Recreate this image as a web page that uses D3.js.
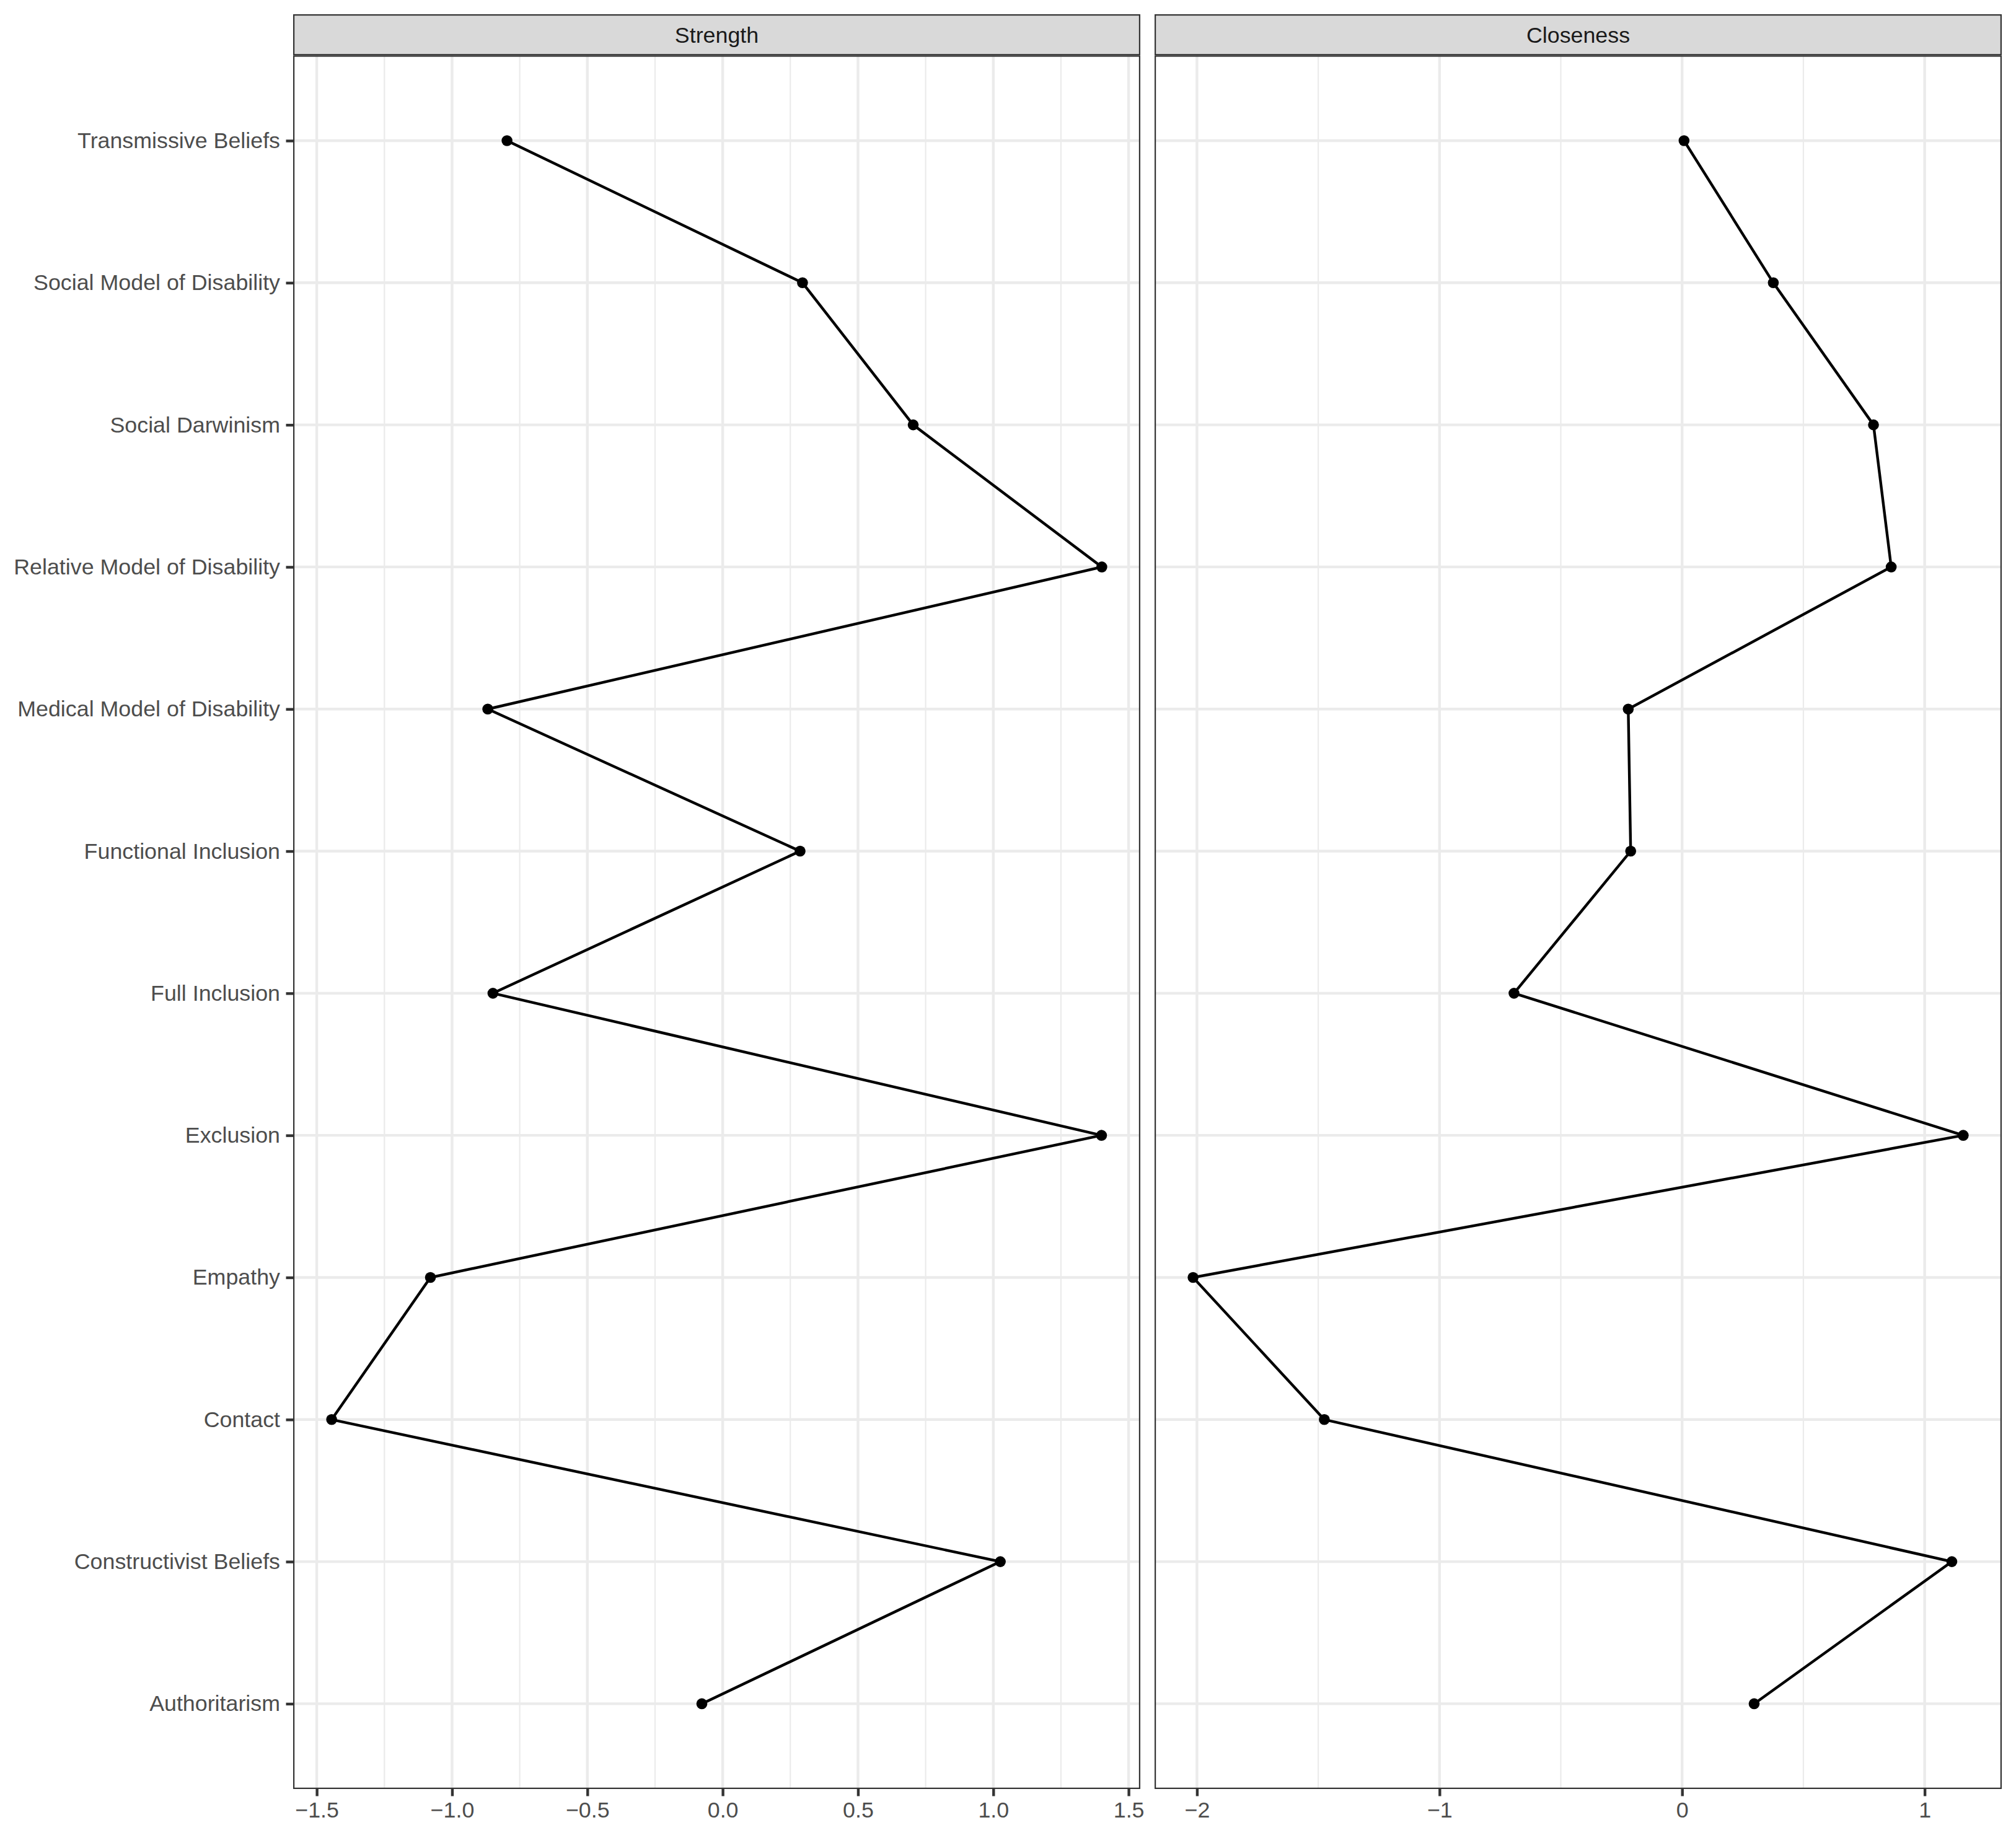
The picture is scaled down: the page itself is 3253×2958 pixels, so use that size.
<html>

<head>
    <meta charset="utf-8">
    <script src="https://cdn.jsdelivr.net/npm/d3@7"></script>

    <style>
        body {
            margin: 0;
            background: #fff;
        }

        svg {
            font-family: "Liberation Sans", Helvetica, Arial, sans-serif;
        }

        .tick text {
            fill: #4D4D4D;
            font-size: 35.8px;
        }

        .tick line {
            stroke: #333333;
            stroke-width: 4.4px;
        }

        .strip-text {
            fill: #1A1A1A;
            font-size: 35.8px;
        }

        .line {
            fill: none;
            stroke: #000;
            stroke-width: 4.4px;
        }
    </style>
</head>

<body>
    <div id="chart"></div>

    <script>
        // categories, top to bottom
        var nodes = [
            "Transmissive Beliefs",
            "Social Model of Disability",
            "Social Darwinism",
            "Relative Model of Disability",
            "Medical Model of Disability",
            "Functional Inclusion",
            "Full Inclusion",
            "Exclusion",
            "Empathy",
            "Contact",
            "Constructivist Beliefs",
            "Authoritarism"
        ];

        // standardized centrality values, same order as nodes
        var strength = [-0.797, 0.295, 0.704, 1.401, -0.868, 0.286, -0.849, 1.400, -1.080, -1.445, 1.026, -0.077];
        var closeness = [0.008, 0.376, 0.789, 0.862, -0.222, -0.212, -0.693, 1.159, -2.016, -1.475, 1.112, 0.297];

        // tick labels for each panel
        var strengthTicks = [-1.5, -1.0, -0.5, 0.0, 0.5, 1.0, 1.5];
        var closenessTicks = [-2, -1, 0, 1];

        var panels = [
            { title: "Strength", values: strength, ticks: strengthTicks, fmt: d3.format(".1f") },
            { title: "Closeness", values: closeness, ticks: closenessTicks, fmt: d3.format("d") }
        ];

        var width = 3253;
        var height = 2958;
        var margin = { top: 23, right: 23, bottom: 70, left: 473 };
        var stripH = 66.4;
        var gap = 23;
        var tickLen = 11.5;

        var panelW = (width - margin.left - margin.right - gap) / 2;
        var panelTop = margin.top + stripH;
        var panelBottom = 2887;

        var svg = d3.select("#chart").append("svg")
            .attr("width", width)
            .attr("height", height);

        /* Shared y scale (discrete, ggplot-like expansion of 0.6) */
        var yScale = d3.scalePoint()
            .domain(nodes)
            .range([panelTop, panelBottom])
            .padding(0.6);

        var line = d3.line();

        panels.forEach(function(p, i) {
            var x0 = margin.left + i * (panelW + gap);

            // 5% expansion on each side like ggplot
            var ext = d3.extent(p.values);
            var pad = (ext[1] - ext[0]) * 0.05;
            var xScale = d3.scaleLinear()
                .domain([ext[0] - pad, ext[1] + pad])
                .range([x0, x0 + panelW]);

            // minor breaks halfway between majors, inside the limits
            var minor = [];
            var step = p.ticks[1] - p.ticks[0];
            for (var k = -1; k < p.ticks.length; k++) {
                var m = p.ticks[0] + (k + 0.5) * step;
                if (m > xScale.domain()[0] && m < xScale.domain()[1]) minor.push(m);
            }

            var g = svg.append("g");

            // panel background
            g.append("rect")
                .attr("x", x0).attr("y", panelTop)
                .attr("width", panelW).attr("height", panelBottom - panelTop)
                .attr("fill", "#fff");

            // grid lines
            g.selectAll(".minor").data(minor).enter()
                .append("line")
                .attr("x1", d => xScale(d)).attr("x2", d => xScale(d))
                .attr("y1", panelTop).attr("y2", panelBottom)
                .attr("stroke", "#EBEBEB").attr("stroke-width", 2.2);

            g.selectAll(".majorx").data(p.ticks).enter()
                .append("line")
                .attr("x1", d => xScale(d)).attr("x2", d => xScale(d))
                .attr("y1", panelTop).attr("y2", panelBottom)
                .attr("stroke", "#EBEBEB").attr("stroke-width", 4.4);

            g.selectAll(".majory").data(nodes).enter()
                .append("line")
                .attr("x1", x0).attr("x2", x0 + panelW)
                .attr("y1", d => yScale(d)).attr("y2", d => yScale(d))
                .attr("stroke", "#EBEBEB").attr("stroke-width", 4.4);

            // data line and points
            var pts = nodes.map((n, j) => [xScale(p.values[j]), yScale(n)]);

            g.append("path")
                .attr("class", "line")
                .attr("d", line(pts));

            g.selectAll("circle").data(pts).enter()
                .append("circle")
                .attr("cx", d => d[0])
                .attr("cy", d => d[1])
                .attr("r", 8.8)
                .attr("fill", "#000");

            // panel border
            g.append("rect")
                .attr("x", x0 + 1.1).attr("y", panelTop + 1.1)
                .attr("width", panelW - 2.2).attr("height", panelBottom - panelTop - 2.2)
                .attr("fill", "none")
                .attr("stroke", "#333333").attr("stroke-width", 2.2);

            // strip
            g.append("rect")
                .attr("x", x0 + 1.1).attr("y", margin.top + 1.1)
                .attr("width", panelW - 2.2).attr("height", stripH - 2.2)
                .attr("fill", "#D9D9D9")
                .attr("stroke", "#333333").attr("stroke-width", 2.2);

            g.append("text")
                .attr("class", "strip-text")
                .attr("x", x0 + panelW / 2)
                .attr("y", margin.top + stripH / 2)
                .attr("dy", "0.36em")
                .attr("text-anchor", "middle")
                .text(p.title);

            /* x axis */
            var xAxis = d3.axisBottom(xScale)
                .tickValues(p.ticks)
                .tickFormat(p.fmt)
                .tickSize(tickLen)
                .tickPadding(9.2);

            var ax = svg.append("g")
                .attr("transform", `translate(0, ${panelBottom})`)
                .call(xAxis);
            ax.select(".domain").remove();
            ax.selectAll(".tick text").attr("dy", "0.72em");

            /* y axis only on the first panel */
            if (i === 0) {
                var yAxis = d3.axisLeft(yScale)
                    .tickSize(tickLen)
                    .tickPadding(9.5);

                var ay = svg.append("g")
                    .attr("transform", `translate(${x0}, 0)`)
                    .call(yAxis);
                ay.select(".domain").remove();
            }
        });
    </script>
</body>

</html>
